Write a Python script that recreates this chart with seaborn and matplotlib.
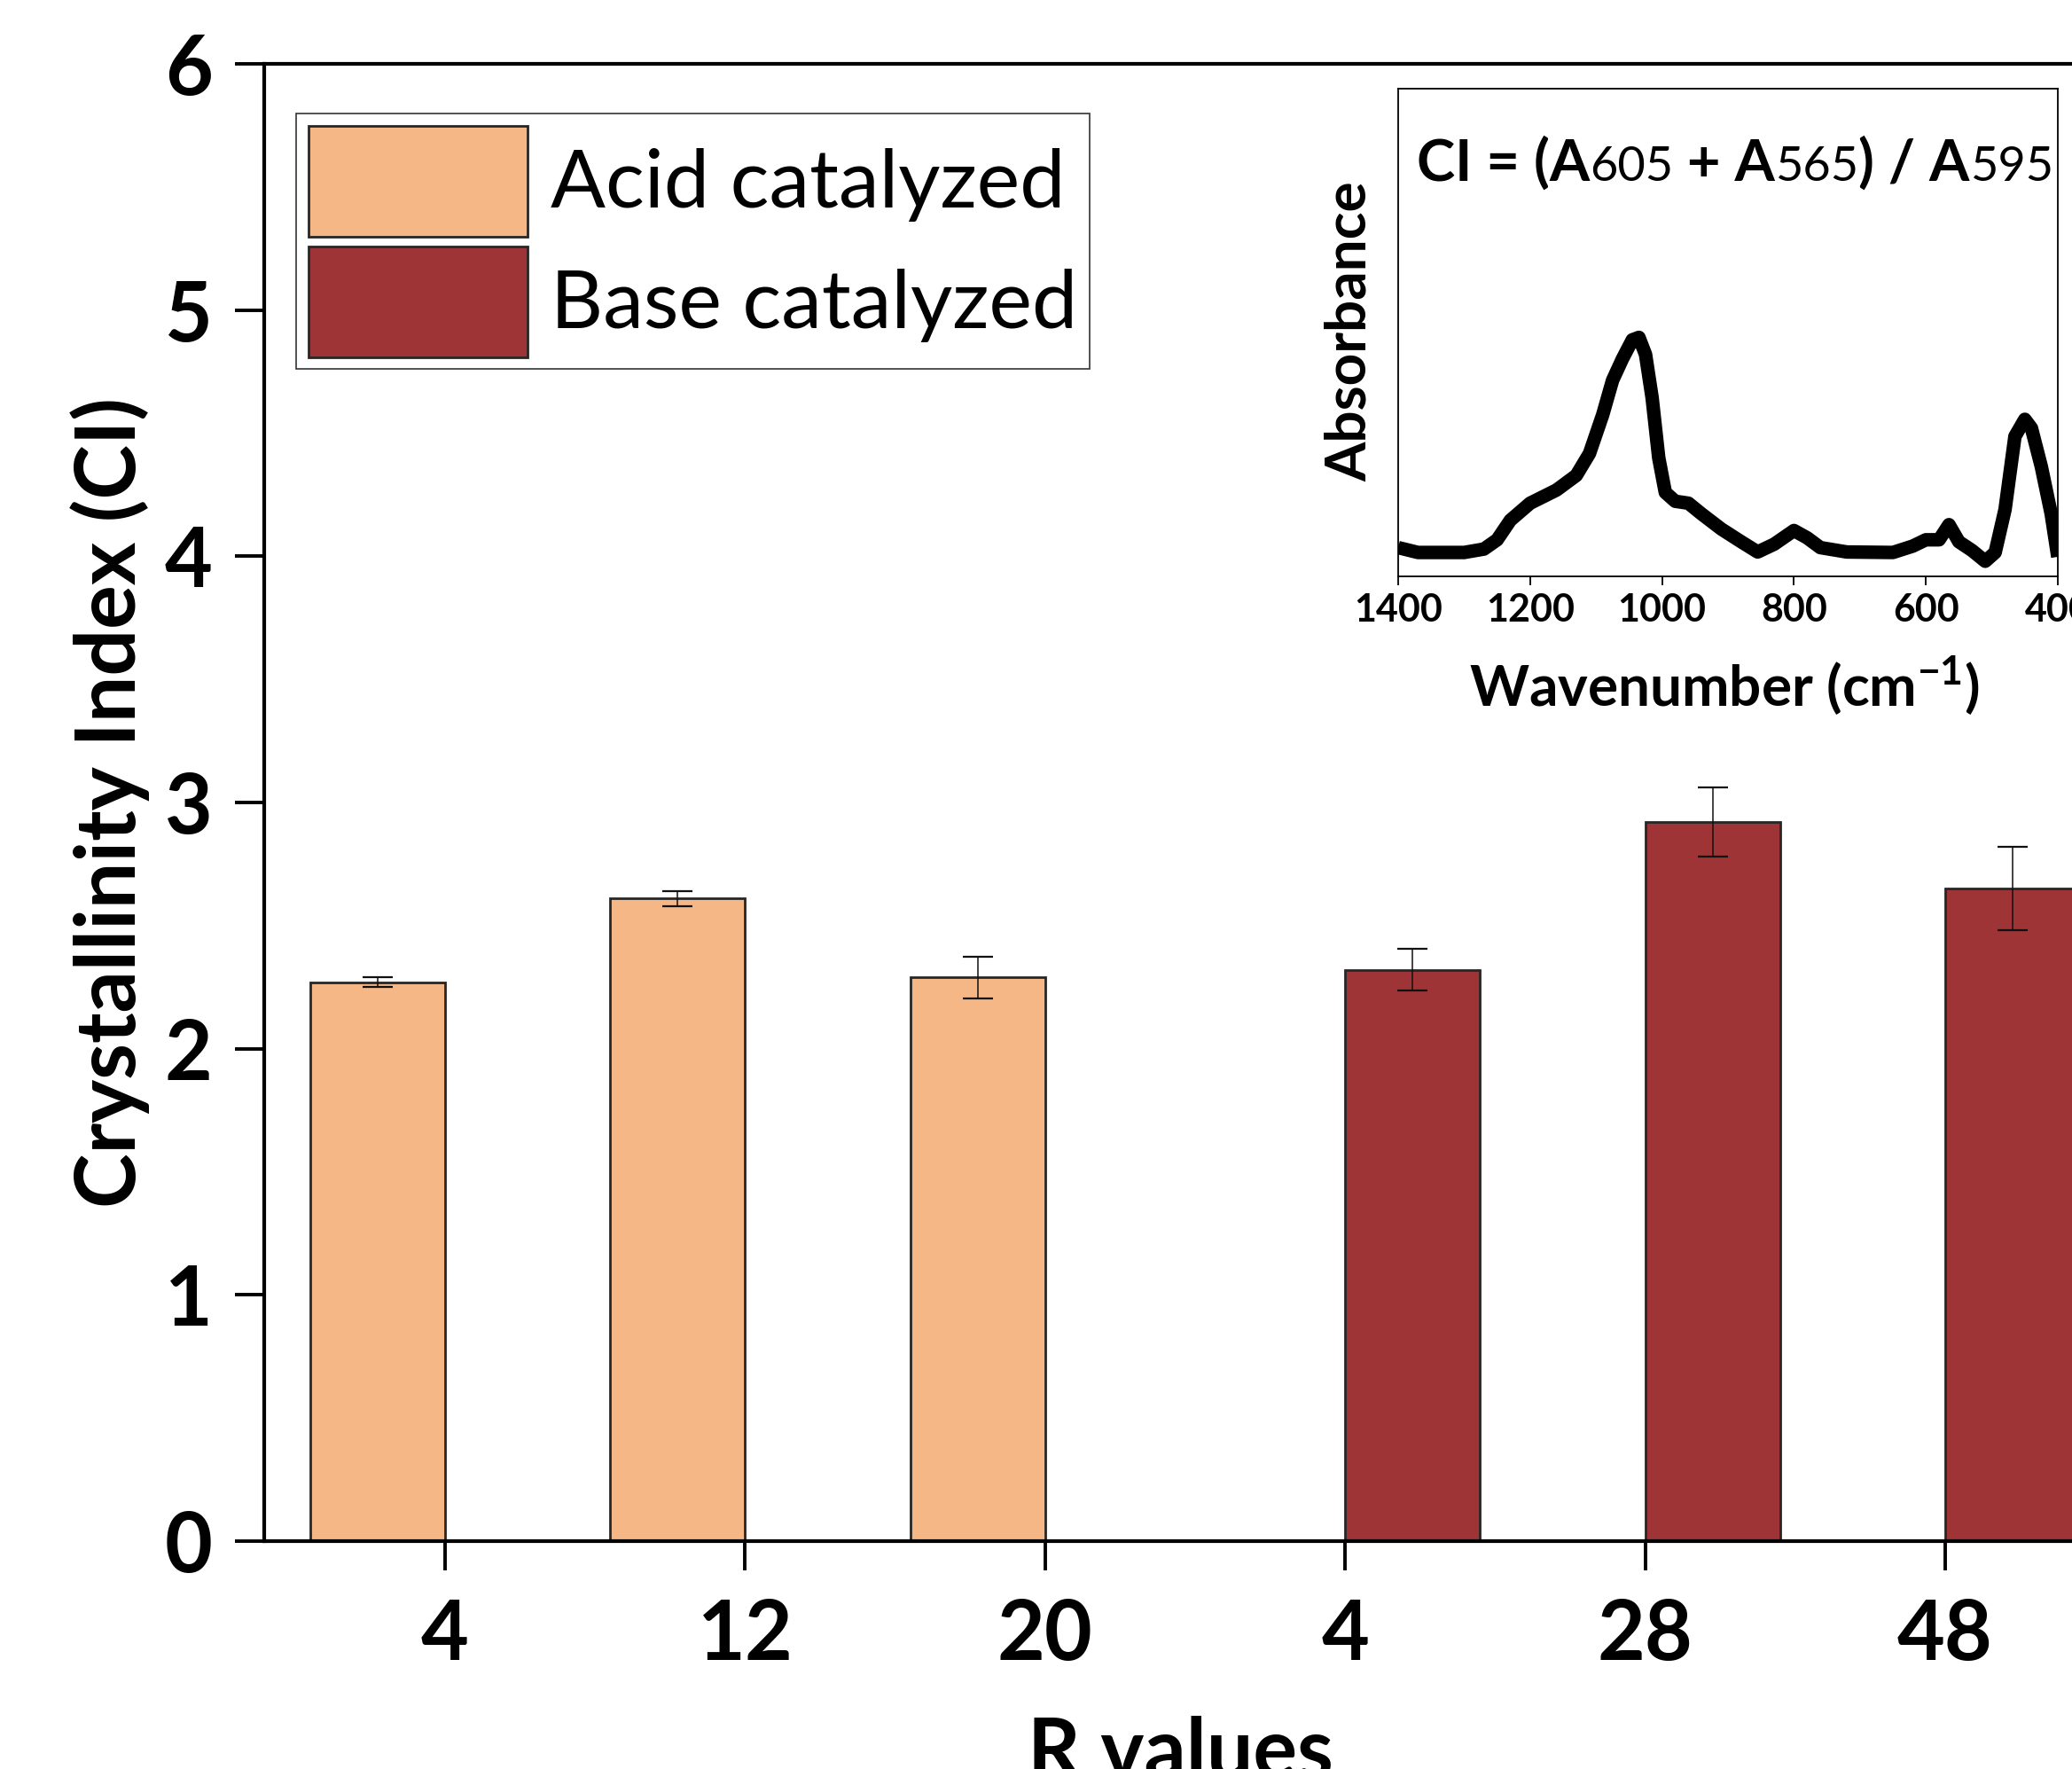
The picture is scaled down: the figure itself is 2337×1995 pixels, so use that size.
import pandas as pd
import matplotlib
matplotlib.use("Agg")
import matplotlib.pyplot as plt
import matplotlib.patches as mpatches
from matplotlib.container import BarContainer
import seaborn as sns

# bar data
r_labels = ["4", "12", "20", "4", "28", "48"]
groups = ["Acid catalyzed"] * 3 + ["Base catalyzed"] * 3
ci_values = [2.27, 2.61, 2.29, 2.32, 2.92, 2.65]
ci_errors = [0.02, 0.03, 0.085, 0.085, 0.14, 0.17]

# FTIR spectrum in the inset (arbitrary absorbance units)
wavenumber = [1400, 1370, 1300, 1270, 1250, 1230, 1200, 1160, 1130, 1110,
              1090, 1075, 1060, 1045, 1035, 1025, 1015, 1005, 995, 980,
              960, 940, 910, 880, 855, 830, 800, 780, 760, 720,
              650, 620, 600, 580, 565, 550, 530, 510, 495, 480,
              465, 450, 440, 425, 410, 400]
absorbance = [0.059, 0.049, 0.049, 0.056, 0.075, 0.115, 0.150, 0.177, 0.207, 0.252,
              0.331, 0.402, 0.446, 0.485, 0.490, 0.455, 0.366, 0.243, 0.172, 0.154,
              0.150, 0.128, 0.097, 0.071, 0.050, 0.066, 0.094, 0.079, 0.059, 0.050,
              0.049, 0.062, 0.075, 0.075, 0.106, 0.071, 0.053, 0.031, 0.049, 0.137,
              0.287, 0.322, 0.304, 0.225, 0.128, 0.040]

colors = {"Acid catalyzed": "#F5B785", "Base catalyzed": "#9E3436"}
edge = "#262626"

df = pd.DataFrame({"slot": range(len(r_labels)), "group": groups,
                   "ci": ci_values, "err": ci_errors})

sns.set_style("ticks")
plt.rcParams["font.family"] = ["Lato", "DejaVu Sans"]
plt.rcParams["mathtext.fontset"] = "custom"
plt.rcParams["mathtext.rm"] = "Lato"
plt.rcParams["mathtext.bf"] = "Lato:bold"
plt.rcParams["text.color"] = "black"
plt.rcParams["xtick.color"] = "black"
plt.rcParams["ytick.color"] = "black"
plt.rcParams["axes.labelcolor"] = "black"

W, H = 2337, 1995
fig = plt.figure(figsize=(W / 100, H / 100), dpi=100)
ax = fig.add_axes([298 / W, 257 / H, 2100 / W, 1666 / H])

sns.barplot(data=df, x="slot", y="ci", hue="group", palette=colors,
            width=0.9, dodge=True, saturation=1, errorbar=None,
            edgecolor=edge, linewidth=2.0, legend=False, ax=ax)

# error bars at bar centres
bar_conts = [c for c in ax.containers if isinstance(c, BarContainer)]
for cont in bar_conts:
    for bar in cont.patches:
        if bar is None:
            continue
        xc = bar.get_x() + bar.get_width() / 2
        slot = int(round(xc))
        ax.errorbar(xc, bar.get_height(), yerr=df.loc[slot, "err"],
                    fmt="none", ecolor="#111111", elinewidth=1.1,
                    capsize=12, capthick=1.6, zorder=5)

ax.set_xlim(-0.603, 5.603)
ax.set_ylim(0, 6)
ax.set_yticks(range(0, 7))
ax.set_xticks(range(len(r_labels)))
ax.set_xticklabels(r_labels)
ax.set_xlabel("")
ax.set_ylabel("")
for s in ax.spines.values():
    s.set_linewidth(3.0)
    s.set_color("black")
ax.tick_params(axis="both", direction="out", length=24, width=2.8,
               labelsize=67, color="black", labelcolor="black")
ax.tick_params(axis="x", pad=22)
ax.tick_params(axis="y", pad=18)
for lbl in ax.get_xticklabels() + ax.get_yticklabels():
    lbl.set_fontweight("bold")

fig.text(153 / W, 1 - 905 / H, "Crystallinity Index (CI)", rotation=90,
         rotation_mode="anchor", ha="center", va="baseline",
         fontsize=67, fontweight="bold")
fig.text(1331 / W, 1 - 2005 / H, "R values", ha="center", va="baseline",
         fontsize=67, fontweight="bold")

handles = [mpatches.Patch(facecolor=colors[g], edgecolor=edge, linewidth=2.0, label=g)
           for g in ["Acid catalyzed", "Base catalyzed"]]
leg = ax.legend(handles=handles, loc="upper left", bbox_to_anchor=(0.0171, 0.9664),
                borderaxespad=0, fontsize=66, frameon=True, fancybox=False,
                handlelength=2.7, handleheight=1.72, borderpad=0.15,
                labelspacing=0.12, handletextpad=0.28)
leg.get_frame().set_edgecolor("black")
leg.get_frame().set_linewidth(1.2)

# inset spectrum
ins = fig.add_axes([1577 / W, 1345 / H, 744 / W, 550 / H])
sns.lineplot(x=wavenumber, y=absorbance, color="black", linewidth=11,
             sort=False, ax=ins)
ins.lines[0].set_solid_joinstyle("round")
ins.lines[0].set_solid_capstyle("butt")
ins.set_xlim(1400, 400)
ins.set_ylim(0, 1)
ins.set_xticks([1400, 1200, 1000, 800, 600, 400])
ins.set_yticks([])
for s in ins.spines.values():
    s.set_linewidth(1.3)
    s.set_color("black")
ins.tick_params(axis="x", direction="out", length=7, width=1.3, pad=6,
                labelsize=31, labelcolor="black")
for lbl in ins.get_xticklabels():
    lbl.set_fontweight("bold")

fig.text(1541 / W, 1 - 374 / H, "Absorbance", rotation=90, rotation_mode="anchor",
         ha="center", va="baseline", fontsize=46, fontweight="bold")
fig.text(1945 / W, 1 - 797 / H, r"Wavenumber (cm$^{\mathbf{-1}}$)", ha="center",
         va="baseline", fontsize=46, fontweight="bold")

# CI formula: bold A, regular smaller numbers
pieces = [("CI = (A", "bold", 47), ("605", "normal", 39), (" + A", "bold", 47),
          ("565", "normal", 39), (") / A", "bold", 47), ("595", "normal", 39)]
renderer = fig.canvas.get_renderer()
xpos = 1598
for txt, wt, sz in pieces:
    t = fig.text(xpos / W, 1 - 204 / H, txt, ha="left", va="baseline",
                 fontsize=sz, fontweight=wt)
    xpos = t.get_window_extent(renderer).x1

fig.savefig("out.png", dpi=100)
